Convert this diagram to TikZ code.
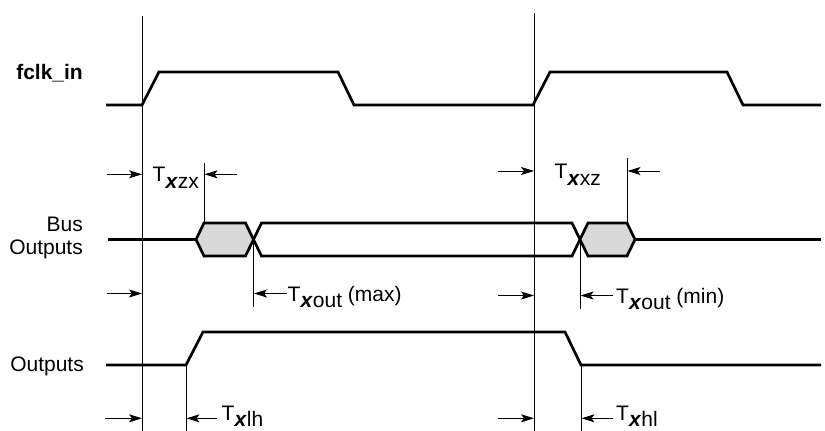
\documentclass[tikz,border=0pt]{standalone}
\usepackage{fontspec}
\setmainfont{Liberation Sans}
\usetikzlibrary{arrows.meta}
\tikzset{
  sig/.style={line width=2.7pt, line join=miter},
  thin/.style={line width=0.9pt},
  dim/.style={line width=0.9pt, -{Stealth[length=13pt,width=8pt,inset=3pt]}},
  lbl/.style={anchor=base west, inner sep=0pt, font=\fontsize{21}{23}\selectfont},
  rowlbl/.style={anchor=base east, inner sep=0pt, align=right, font=\fontsize{21}{23}\selectfont},
}
\newcommand{\tsub}[1]{T\raisebox{-6.5pt}{\textbf{\textit{x}}#1}}
\begin{document}
\begin{tikzpicture}[x=1pt,y=-1pt]
\useasboundingbox (0,0) rectangle (825,431);
% reference verticals
\coordinate (v1t) at (142,16); \coordinate (v1b) at (142,431);
\coordinate (v2t) at (534,13); \coordinate (v2b) at (534,431);
\draw[thin] (v1t) -- (v1b);
\draw[thin] (v2t) -- (v2b);
% row labels
\node[rowlbl, font=\fontsize{21}{23}\selectfont\bfseries] (lclk) at (83,79.5) {fclk\_in};
\node[rowlbl] (lbus1) at (83,231) {Bus};
\node[rowlbl] (lbus2) at (83,254) {Outputs};
\node[rowlbl] (lout) at (84,371) {Outputs};
% fclk_in waveform
\draw[sig] (106,105) -- (142,105) -- (159,72) -- (338,72) -- (354,105) -- (533,105) -- (550,72) -- (727,72) -- (743,105) -- (821,105);
% bus outputs
\draw[sig] (108,239.5) -- (196,239.5);
\draw[sig, fill=black!15] (196,239.5) -- (204,223) -- (245.5,223) -- (253.5,239.5) -- (245.5,256) -- (204,256) -- cycle;
\draw[sig] (253.5,239.5) -- (261.5,223) -- (572,223) -- (580,239.5) -- (572,256) -- (261.5,256) -- cycle;
\draw[sig, fill=black!15] (580,239.5) -- (588,223) -- (627,223) -- (635,239.5) -- (627,256) -- (588,256) -- cycle;
\draw[sig] (635,239.5) -- (821,239.5);
% outputs
\draw[sig] (106,365) -- (186,365) -- (203,332) -- (565,332) -- (581,365) -- (821,365);
% marker verticals
\coordinate (mzxT) at (204,163); \coordinate (mzxB) at (204,223);
\coordinate (mxzT) at (627,158); \coordinate (mxzB) at (627,223);
\coordinate (mmaxT) at (253.5,239.5); \coordinate (mmaxB) at (253.5,307);
\coordinate (mminT) at (580,239.5); \coordinate (mminB) at (580,309);
\coordinate (mlhT) at (186,365); \coordinate (mlhB) at (186,431);
\coordinate (mhlT) at (581,365); \coordinate (mhlB) at (581,431);
\foreach \a/\b in {mzxT/mzxB, mxzT/mxzB, mmaxT/mmaxB, mminT/mminB, mlhT/mlhB, mhlT/mhlB}
  \draw[thin] (\a) -- (\b);
% dimension arrows
\coordinate (zxL0) at (106.5,174.3); \coordinate (zxL1) at (142,174.3);
\coordinate (zxR0) at (237,174.3); \coordinate (zxR1) at (204.5,174.3);
\coordinate (xzL0) at (498,171); \coordinate (xzL1) at (534,171);
\coordinate (xzR0) at (660,171); \coordinate (xzR1) at (627.5,171);
\coordinate (mxL0) at (106.5,293.5); \coordinate (mxL1) at (142,293.5);
\coordinate (mxR0) at (286.5,293.5); \coordinate (mxR1) at (254,293.5);
\coordinate (mnL0) at (498,295.5); \coordinate (mnL1) at (534,295.5);
\coordinate (mnR0) at (613,295.5); \coordinate (mnR1) at (580.5,295.5);
\coordinate (lhL0) at (105,418.3); \coordinate (lhL1) at (142,418.3);
\coordinate (lhR0) at (217,418.3); \coordinate (lhR1) at (186.5,418.3);
\coordinate (hlL0) at (498,418.3); \coordinate (hlL1) at (534,418.3);
\coordinate (hlR0) at (613,418.3); \coordinate (hlR1) at (581.5,418.3);
\foreach \p in {zx, xz, mx, mn, lh, hl} {
  \draw[dim] (\p L0) -- (\p L1);
  \draw[dim] (\p R0) -- (\p R1);
}
% timing labels
\node[lbl] (tzx) at (152.5,181.8) {\tsub{zx}};
\node[lbl] (txz) at (554.5,178.5) {\tsub{xz}};
\node[lbl] (tmax) at (287.5,301) {\tsub{out} (max)};
\node[lbl] (tmin) at (616,303) {\tsub{out} (min)};
\node[lbl] (tlh) at (221.5,420) {\tsub{lh}};
\node[lbl] (thl) at (616,420) {\tsub{hl}};
\end{tikzpicture}
\end{document}
